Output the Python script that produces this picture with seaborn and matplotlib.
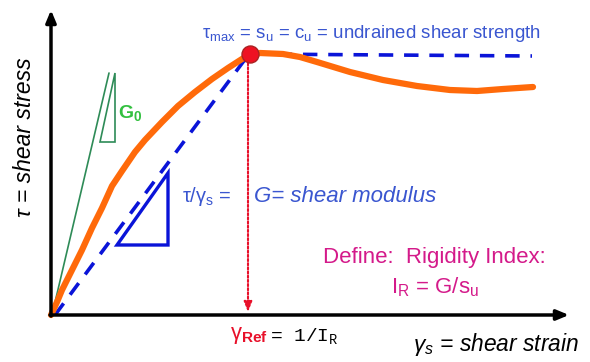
import matplotlib
matplotlib.use("Agg")
import matplotlib.pyplot as plt
import seaborn as sns
import numpy as np
import pandas as pd
from matplotlib.patches import Polygon

sns.set_theme(style="white")
plt.rcParams['font.family'] = ['Liberation Sans', 'DejaVu Sans']
plt.rcParams['mathtext.fontset'] = 'custom'
plt.rcParams['mathtext.rm'] = 'Liberation Sans'
plt.rcParams['mathtext.it'] = 'Liberation Sans:italic'
plt.rcParams['mathtext.bf'] = 'Liberation Sans:bold'

# ---- data (strain, stress) in drawing units, origin at (0,0) ----
curve_strain = [0, 6, 11, 21, 31, 41, 51, 61, 71, 84, 94, 111, 127, 144, 161, 177, 191, 198,
                209, 232, 249, 266, 299, 332, 366, 399, 426, 452, 482]
curve_stress = [0, 13, 25, 45, 65, 87, 107, 129, 144, 163, 175, 193, 209, 223, 236, 247, 256, 260,
                262, 261, 258, 253, 243, 235, 229, 225, 224, 226, 228]

secant_strain = [4, 198, 481]
secant_stress = [0, 261, 259]

g0_strain = [1, 58]
g0_stress = [0, 242]
g0_tri_strain = [49, 64, 64]
g0_tri_stress = [173, 173, 242]

g_tri_strain = [66, 117, 117]
g_tri_stress = [70, 70, 142]

peak_strain = [199]
peak_stress = [261]
ref_strain = 197

fig = plt.figure(figsize=(5.9, 3.62), dpi=100)
ax = fig.add_axes([0, 0, 1, 1])
ax.set_xlim(-51, 539)
ax.set_ylim(-47, 315)
ax.axis('off')

# axes arrows
ax.annotate('', xy=(0, 305), xytext=(0, -1),
            arrowprops=dict(arrowstyle='-|>,head_length=0.6,head_width=0.25', lw=2.5, color='black', shrinkA=0, shrinkB=0))
ax.annotate('', xy=(518, 0), xytext=(-1, 0),
            arrowprops=dict(arrowstyle='-|>,head_length=0.6,head_width=0.25', lw=2.5, color='black', shrinkA=0, shrinkB=0))

# green initial tangent + triangle
sns.lineplot(x=g0_strain, y=g0_stress, ax=ax, color='#2E8B57', lw=1.2, sort=False)
ax.add_patch(Polygon(np.column_stack([g0_tri_strain, g0_tri_stress]), closed=True, fill=False,
                     edgecolor='#2E8B57', lw=1.2))

# blue secant dashed line
sns.lineplot(x=secant_strain, y=secant_stress, ax=ax, color='#0A14D8', lw=2.6, sort=False,
             linestyle=(0, (4, 3)))
ax.add_patch(Polygon(np.column_stack([g_tri_strain, g_tri_stress]), closed=True, fill=False,
                     edgecolor='#0A14D8', lw=2.4, joinstyle='miter'))

# red dotted reference strain
ax.annotate('', xy=(ref_strain, 3), xytext=(ref_strain, 256),
            arrowprops=dict(arrowstyle='-|>,head_length=0.5,head_width=0.2', lw=1.5, color='#E8102A',
                            linestyle=(0, (1, 1)), shrinkA=0, shrinkB=0))

# orange stress-strain curve
sns.lineplot(x=curve_strain, y=curve_stress, ax=ax, color='#FF6A0A', lw=4.5, sort=False,
             solid_capstyle='round', solid_joinstyle='round')

# peak
ax.scatter(peak_strain, peak_stress, s=150, color='#EE1122', edgecolor='#AA2222', lw=1, zorder=5)

blue_txt = '#3A56D0'
ax.text(151, 282, r'τ$_\mathregular{max}$ = s$_\mathregular{u}$ = c$_\mathregular{u}$ = undrained shear strength',
        color=blue_txt, fontsize=13.4, ha='left', va='center')
ax.text(67, 202, r'G$_\mathregular{0}$', color='#33C040', fontsize=14, fontweight='bold', ha='left', va='center')
ax.text(131, 118, r'τ/γ$_\mathregular{s}$ =', color=blue_txt, fontsize=14.4, ha='left', va='center')
ax.text(203, 118, 'G= shear modulus', color=blue_txt, fontsize=16, style='italic', ha='left', va='center')

mag = '#D41A8A'
ax.text(383, 58, 'Define:  Rigidity Index:', color=mag, fontsize=16, ha='center', va='center')
ax.text(384, 28, r'I$_\mathregular{R}$ = G/s$_\mathregular{u}$', color=mag, fontsize=16, ha='center', va='center')

ax.text(179, -21, r'γ$_\mathbf{Ref}$', color='#E8102A', fontsize=15.8, ha='left', va='center')
ax.text(219, -21, r'= 1/I$_\mathregular{R}$', color='black', fontsize=14, family='Liberation Mono',
        ha='left', va='center')
ax.text(362, -30, r'γ$_\mathit{s}$ = shear strain', color='black', fontsize=16.4, style='italic',
        ha='left', va='center')
ax.text(-26, 178, 'τ = shear stress', color='black', fontsize=16.5, style='italic', rotation=90,
        ha='center', va='center')

fig.savefig('out.png', dpi=100)
